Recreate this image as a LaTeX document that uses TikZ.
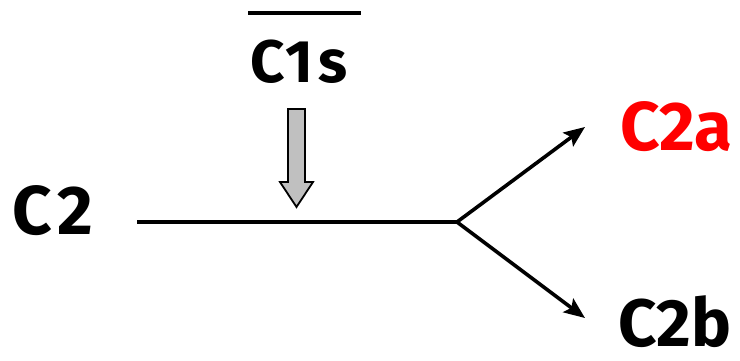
\documentclass[tikz,border=0pt]{standalone}
\usepackage{fontspec}
\setmainfont{Fira Sans}
\newfontfamily\widefira[LetterSpace=8]{Fira Sans}
\usetikzlibrary{arrows.meta}
\definecolor{labelred}{RGB}{255,0,0}
\definecolor{probegray}{RGB}{192,192,192}
\begin{document}
\begin{tikzpicture}[x=1pt,y=-1pt,
  lbl/.style={font=\fontsize{69}{69}\selectfont\bfseries, inner sep=0pt, anchor=base west},
  widelbl/.style={font=\fontsize{69}{69}\widefira\bfseries, inner sep=0pt, anchor=base west},
  smalllbl/.style={font=\fontsize{60}{60}\widefira\bfseries, inner sep=0pt, anchor=base west},
  wire/.style={line width=3.6pt},
  branch/.style={wire, -{Stealth[length=21pt,width=17pt,inset=4pt]}},
  probe/.style={fill=probegray, draw=black, line width=1.8pt, line join=miter}]
  \useasboundingbox (0,0) rectangle (740,360);

  % labels
  \node[widelbl] (c2) at (12,234) {C2};
  \node[smalllbl] (c1s) at (250,82) {C1s};
  \node[lbl, text=labelred] (c2a) at (620,150) {C2a};
  \node[lbl, font=\fontsize{67}{67}\selectfont\bfseries] (c2b) at (618,346) {C2b};

  % bar over C1s
  \draw[line width=3.4pt] (248,13) -- (361,13);

  % grey down arrow
  \draw[probe] (288,109) -- (305,109) -- (305,182) -- (313,182) -- (296.5,207)
    -- (280,182) -- (288,182) -- cycle;

  % main line and branches
  \coordinate (start) at (137,222);
  \coordinate (fork) at (457,222);
  \coordinate (upend) at (585,127);
  \coordinate (downend) at (585,318);
  \draw[wire] (start) -- (fork);
  \draw[branch] (fork) -- (upend);
  \draw[branch] (fork) -- (downend);
\end{tikzpicture}
\end{document}
